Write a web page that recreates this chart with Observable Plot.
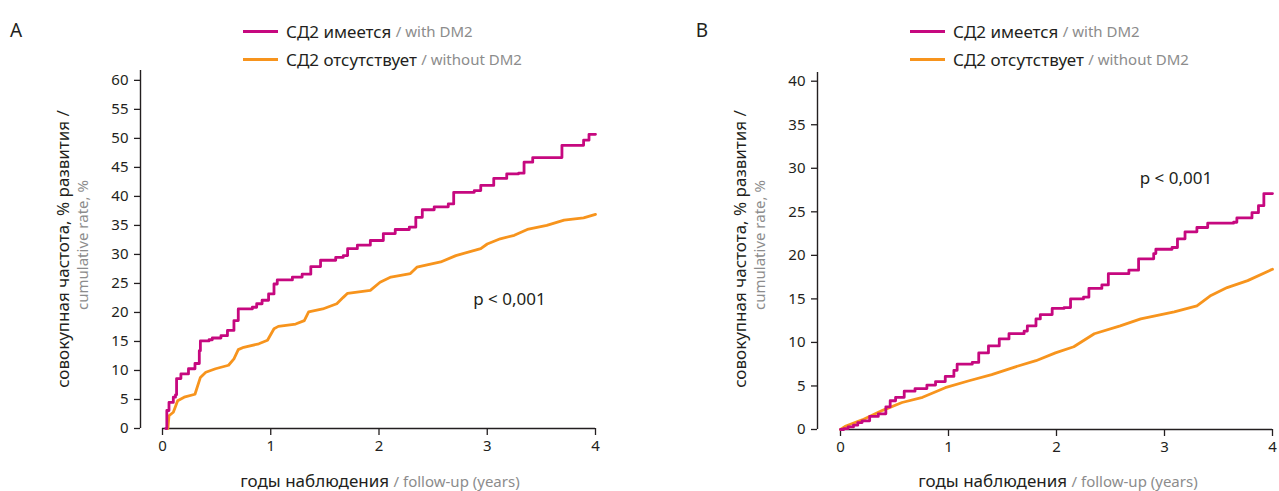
<!DOCTYPE html>
<html><head><meta charset="utf-8">
<script src="https://cdn.jsdelivr.net/npm/d3@7"></script>
<script src="https://cdn.jsdelivr.net/npm/@observablehq/plot@0.6"></script>
<style>
body{margin:0;background:#fff;font-family:"Noto Sans",sans-serif;}
#wrap{position:relative;width:1279px;height:491px;overflow:hidden;background:#fff;}
.panel{position:absolute;top:0;}
.pt{position:absolute;width:0;height:0;}
.c{position:absolute;left:0;top:0;white-space:nowrap;transform:translate(-50%,-50%);color:#231f20;font-size:17px;line-height:1.2;}
.r{transform:translate(-50%,-50%) rotate(-90deg);}
.g{color:#8c8c8c;font-size:15px;}
.leg{position:absolute;height:20px;display:flex;align-items:center;white-space:nowrap;color:#231f20;font-size:17px;}
.sw{width:35px;height:3px;margin-right:8px;}
.lt{position:absolute;font-size:19px;color:#231f20;transform:translate(-50%,-50%);}
</style></head>
<body><div id="wrap"></div>
<script>
// ---- data ----
const seriesNames = ["СД2 имеется", "СД2 отсутствует"];
const seriesEn = ["with DM2", "without DM2"];
const colors = ["#c6087f", "#f7941d"];
const xTicks = [0, 1, 2, 3, 4];
const yTicksA = [0, 5, 10, 15, 20, 25, 30, 35, 40, 45, 50, 55, 60];
const yTicksB = [0, 5, 10, 15, 20, 25, 30, 35, 40];
const pText = "p < 0,001";

// Panel A — with DM2 (years, cumulative %)
const aDm2T = [0.03,0.04,0.06,0.10,0.12,0.13,0.17,0.24,0.30,0.34,0.35,0.43,0.46,0.54,0.60,0.66,0.70,0.83,0.87,0.92,0.98,1.03,1.06,1.20,1.29,1.37,1.46,1.60,1.67,1.71,1.80,1.92,2.04,2.15,2.28,2.34,2.40,2.51,2.64,2.69,2.88,2.94,3.06,3.18,3.29,3.34,3.42,3.65,3.69,3.86,3.89,3.94,4.0];
const aDm2V = [0,3.1,4.5,5.4,5.8,8.6,9.4,10.3,11.2,13.4,15.1,15.3,15.6,16.0,16.9,18.6,20.6,20.9,21.5,22.1,23.2,24.9,25.6,26.1,26.6,27.9,29.0,29.5,29.8,31.0,31.6,32.4,33.6,34.3,34.7,36.4,37.7,38.2,38.7,40.7,41.0,41.9,43.1,43.9,44.0,45.9,46.7,46.7,48.8,48.8,49.7,50.7,50.7];
// Panel A — without DM2
const aNoT = [0.05,0.06,0.10,0.14,0.20,0.30,0.35,0.40,0.49,0.61,0.66,0.70,0.75,0.89,0.97,1.03,1.07,1.23,1.31,1.35,1.48,1.61,1.67,1.71,1.92,2.01,2.11,2.29,2.35,2.57,2.71,2.94,3.00,3.12,3.25,3.37,3.55,3.71,3.89,4.0];
const aNoV = [0,2.2,2.8,4.8,5.4,5.9,8.8,9.7,10.3,10.9,12.0,13.6,14.0,14.6,15.2,17.2,17.6,18.0,18.6,20.1,20.6,21.5,22.6,23.3,23.8,25.2,26.1,26.7,27.8,28.7,29.8,31.0,31.8,32.7,33.3,34.3,35.0,35.9,36.3,36.9];
// Panel B — with DM2
const bDm2T = [0,0.03,0.07,0.12,0.16,0.20,0.27,0.35,0.42,0.46,0.51,0.59,0.69,0.80,0.88,0.97,1.05,1.08,1.22,1.28,1.37,1.47,1.56,1.70,1.73,1.81,1.85,1.96,2.07,2.13,2.25,2.30,2.42,2.48,2.67,2.76,2.90,2.92,3.07,3.12,3.19,3.30,3.40,3.64,3.67,3.80,3.81,3.87,3.92,4.0];
const bDm2V = [0,0.1,0.3,0.5,0.8,1.0,1.5,1.8,2.6,3.3,3.7,4.4,4.7,5.1,5.5,6.1,6.8,7.5,7.7,8.8,9.6,10.4,11.0,11.3,11.9,12.7,13.2,13.9,14.0,15.0,15.2,16.2,16.6,17.9,18.3,19.6,20.2,20.7,20.9,21.9,22.7,23.2,23.7,23.8,24.3,24.3,24.9,25.7,27.1,27.1];
// Panel B — without DM2
const bNoT = [0,0.05,0.20,0.39,0.57,0.76,0.97,1.19,1.40,1.62,1.81,1.99,2.16,2.35,2.59,2.78,3.09,3.30,3.43,3.58,3.77,3.98,4.0];
const bNoV = [0,0.4,1.1,2.2,3.1,3.7,4.8,5.6,6.3,7.2,7.9,8.8,9.5,11.0,11.9,12.7,13.5,14.2,15.4,16.3,17.1,18.3,18.4];

const yLabelRu = "совокупная частота, % развития /";
const yLabelEn = "cumulative rate, %";
const xLabelRu = "годы наблюдения";
const xLabelEn = "follow-up (years)";

// ---- build ----
const wrap = document.getElementById("wrap");
const toRows = (T, V) => T.map((t, i) => ({t, v: V[i]}));

function panel(cfg) {
  const p = Plot.plot({
    width: cfg.width, height: 491,
    marginLeft: cfg.ml, marginRight: cfg.mr, marginTop: cfg.mt, marginBottom: 491 - cfg.bottom,
    x: {domain: [0, 4]},
    y: {domain: cfg.yDomain},
    style: {fontFamily: '"Noto Sans", sans-serif', fontSize: "15px", color: "#231f20", background: "transparent", overflow: "visible"},
    marks: [
      Plot.ruleX([0], {dx: cfg.dx, stroke: "#231f20", strokeWidth: 1.4}),
      Plot.axisY({ticks: cfg.yTicks, dx: cfg.dx, tickSize: 6, tickPadding: 6, label: null, stroke: "#231f20", strokeWidth: 1.3}),
      Plot.ruleY([0], {stroke: "#231f20", strokeWidth: 1.4}),
      Plot.axisX({ticks: xTicks, tickSize: 7, tickPadding: 5, label: null, tickFormat: d => String(d), stroke: "#231f20", strokeWidth: 1.3}),
      Plot.line(cfg.s2, {x: "t", y: "v", stroke: colors[1], strokeWidth: 2.8, curve: "linear"}),
      Plot.line(cfg.s1, {x: "t", y: "v", stroke: colors[0], strokeWidth: 2.8, curve: "step-after"}),
      Plot.text([pText], {x: cfg.px, y: cfg.py, text: d => d, textAnchor: "start", fontSize: 17, fill: "#231f20"})
    ]
  });
  const d = document.createElement("div");
  d.className = "panel"; d.style.left = cfg.left + "px";
  d.appendChild(p);
  wrap.appendChild(d);

  const abs = (x, y, html, cls) => {
    const o = document.createElement("div"); o.className = "pt";
    o.style.left = x + "px"; o.style.top = y + "px";
    o.innerHTML = `<div class="${cls}">${html}</div>`;
    wrap.appendChild(o);
  };
  const L = document.createElement("div"); L.className = "lt";
  L.style.left = cfg.letterX + "px"; L.style.top = "30px"; L.textContent = cfg.letter;
  wrap.appendChild(L);
  [0, 1].forEach(i => {
    const g = document.createElement("div"); g.className = "leg";
    g.style.left = cfg.legX + "px"; g.style.top = (cfg.legY[i] - 10) + "px";
    g.innerHTML = `<div class="sw" style="background:${colors[i]}"></div><span>${seriesNames[i]}</span>&nbsp;<span class="g">/ ${seriesEn[i]}</span>`;
    wrap.appendChild(g);
  });
  abs(cfg.yl1, 249, yLabelRu, "c r");
  abs(cfg.yl2, 245, yLabelEn, "c r g");
  abs(cfg.xlX, 481, `${xLabelRu} <span class="g">/ ${xLabelEn}</span>`, "c");
}

panel({left: 0, width: 640, ml: 162, mr: 45, mt: 70, bottom: 428, yDomain: [0, 61.7], yTicks: yTicksA, dx: -22,
  s1: toRows(aDm2T, aDm2V), s2: toRows(aNoT, aNoV), px: 2.87, py: 22.2,
  letter: "A", letterX: 16, legX: 243, legY: [31, 59], yl1: 63, yl2: 82, xlX: 380});
panel({left: 640, width: 639, ml: 200, mr: 7, mt: 72, bottom: 429, yDomain: [0, 41], yTicks: yTicksB, dx: -23,
  s1: toRows(bDm2T, bDm2V), s2: toRows(bNoT, bNoV), px: 2.77, py: 28.8,
  letter: "B", letterX: 702, legX: 910, legY: [31, 59], yl1: 740, yl2: 759, xlX: 1058});
</script></body></html>
